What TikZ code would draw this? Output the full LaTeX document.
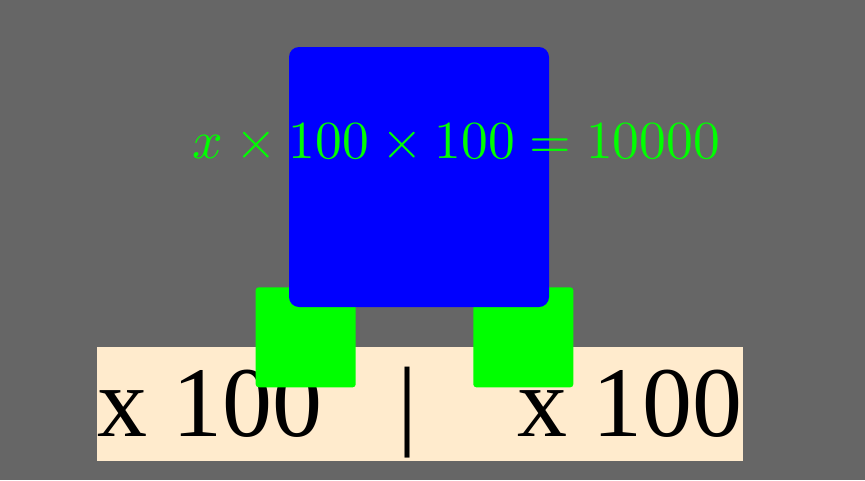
\documentclass[tikz,border=0pt]{standalone}
\usepackage{fontspec}
\usepackage{unicode-math}
\setmathfont{Latin Modern Math}
\newfontfamily\bottomfont{Liberation Serif}
\definecolor{bggray}{RGB}{102,102,102}
\definecolor{almond}{HTML}{FFEBCD}
\definecolor{pureblue}{RGB}{0,0,255}
\definecolor{puregreen}{RGB}{0,255,0}
\tikzset{
  smallsq/.style={rectangle, fill=puregreen, inner sep=0pt, minimum width=100pt, minimum height=100pt, rounded corners=3pt},
  bigsq/.style={rectangle, fill=pureblue, inner sep=0pt, minimum width=260pt, minimum height=260pt, rounded corners=10pt},
  bottomtext/.style={inner sep=0pt, font=\bottomfont\fontsize{100}{115}\selectfont, text=black},
  mathtext/.style={inner sep=0pt, font=\fontsize{53.5}{60}\selectfont, text=puregreen}
}
\begin{document}
\begin{tikzpicture}[x=1pt,y=-1pt]
\fill[bggray] (0,0) rectangle (865,480);
\useasboundingbox (0,0) rectangle (865,480);
\node[rectangle, fill=almond, inner sep=0pt, minimum width=646pt, minimum height=114pt] (band) at (420,404) {};
\node[bottomtext, anchor=base west] (left) at (97,436) {x 100};
\node[bottomtext, anchor=base west] (bar) at (397.5,436) {|};
\node[bottomtext, anchor=base east] (right) at (743,436) {x 100};
\node[smallsq] (gl) at (305.7,337.3) {};
\node[smallsq] (gr) at (523.3,337.3) {};
\node[bigsq] (blue) at (419,177) {};
\node[mathtext, anchor=base] (eq) at (456.5,158) {$x \times 100 \times 100 = 10000$};
\end{tikzpicture}
\end{document}
